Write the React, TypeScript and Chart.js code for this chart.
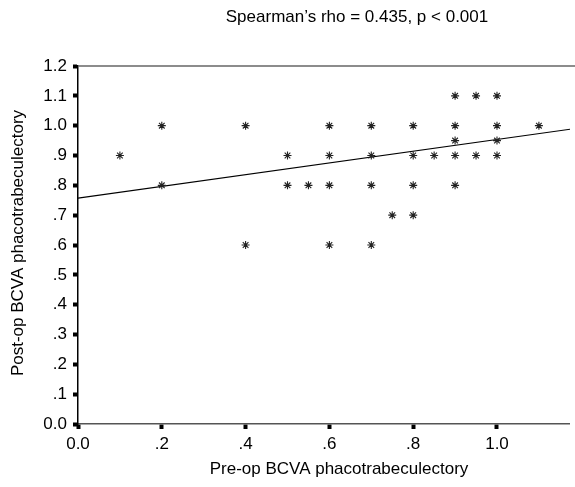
import React, { useEffect, useRef } from "react";
import { Chart, registerables } from "chart.js";
Chart.register(...registerables);

const preOp = [0.1, 0.2, 0.2, 0.4, 0.4, 0.5, 0.5, 0.55, 0.6, 0.6, 0.6, 0.6, 0.7, 0.7, 0.7, 0.7, 0.75, 0.8, 0.8, 0.8, 0.8, 0.85, 0.9, 0.9, 0.9, 0.9, 0.9, 0.95, 0.95, 1.0, 1.0, 1.0, 1.0, 1.1];
const postOp = [0.9, 1.0, 0.8, 1.0, 0.6, 0.9, 0.8, 0.8, 1.0, 0.9, 0.8, 0.6, 1.0, 0.9, 0.8, 0.6, 0.7, 1.0, 0.9, 0.8, 0.7, 0.9, 1.1, 1.0, 0.95, 0.9, 0.8, 1.1, 0.9, 1.1, 1.0, 0.95, 0.9, 1.0];

const fitX = [0, 1.2];
const fitY = [0.757, 0.993];

const xTicks = [0, 0.2, 0.4, 0.6, 0.8, 1.0];
const xTickLabels = ["0.0", ".2", ".4", ".6", ".8", "1.0"];
const yTicks = [0, 0.1, 0.2, 0.3, 0.4, 0.5, 0.6, 0.7, 0.8, 0.9, 1.0, 1.1, 1.2];
const yTickLabels = ["0.0", ".1", ".2", ".3", ".4", ".5", ".6", ".7", ".8", ".9", "1.0", "1.1", "1.2"];

const titleText = "Spearman\u2019s rho = 0.435, p < 0.001";
const xTitle = "Pre-op BCVA phacotrabeculectory";
const yTitle = "Post-op BCVA phacotrabeculectory";

const FONT = '"Liberation Sans", Arial, sans-serif';

const decorPlugin = {
  id: "decor",
  afterDatasetsDraw(chart: any) {
    const { ctx, chartArea } = chart;
    ctx.save();
    ctx.strokeStyle = "#666";
    ctx.lineWidth = 1.5;
    ctx.beginPath();
    ctx.moveTo(chartArea.left, chartArea.top);
    ctx.lineTo(chart.width, chartArea.top);
    ctx.stroke();
    ctx.restore();
  },
  afterDraw(chart: any) {
    const { ctx, chartArea } = chart;
    ctx.save();
    ctx.fillStyle = "#000";
    ctx.font = "17px " + FONT;
    ctx.textAlign = "center";
    ctx.textBaseline = "middle";
    ctx.fillText(titleText, 357, 17);
    ctx.fillText(xTitle, 339, 469);
    ctx.translate(18, (chartArea.top + chartArea.bottom) / 2 - 2);
    ctx.rotate(-Math.PI / 2);
    ctx.fillText(yTitle, 0, 0);
    ctx.restore();
  },
};

export default function App() {
  const ref = useRef<HTMLCanvasElement>(null);
  useEffect(() => {
    if (!ref.current) return;
    const chart = new Chart(ref.current, {
      type: "scatter",
      data: {
        datasets: [
          {
            data: preOp.map((x, i) => ({ x, y: postOp[i] })),
            pointStyle: "star",
            pointRadius: 4,
            borderColor: "#222",
            backgroundColor: "#222",
            borderWidth: 1.1,
            showLine: false,
          },
          {
            data: fitX.map((x, i) => ({ x, y: fitY[i] })),
            showLine: true,
            pointRadius: 0,
            borderColor: "#000",
            borderWidth: 1.2,
          },
        ],
      },
      options: {
        animation: false,
        responsive: true,
        maintainAspectRatio: false,
        layout: { padding: { top: 66, right: 0, bottom: 0, left: 0 } },
        plugins: { legend: { display: false }, tooltip: { enabled: false }, title: { display: false } },
        scales: {
          x: {
            type: "linear",
            min: 0,
            max: 1.174,
            afterBuildTicks: (s: any) => {
              s.ticks = xTicks.map((v) => ({ value: v }));
            },
            afterFit: (s: any) => {
              s.height = 63;
            },
            ticks: {
              font: { size: 17, family: FONT },
              color: "#000",
              padding: 5,
              maxRotation: 0,
              autoSkip: false,
              callback: (v: any) => {
                const i = xTicks.findIndex((t) => Math.abs(t - v) < 1e-6);
                return i >= 0 ? xTickLabels[i] : "";
              },
            },
            grid: { drawOnChartArea: false, tickLength: 5, tickWidth: 4, tickColor: "#000" },
            border: { color: "#555", width: 1.5 },
          },
          y: {
            type: "linear",
            min: 0,
            max: 1.2,
            afterBuildTicks: (s: any) => {
              s.ticks = yTicks.map((v) => ({ value: v }));
            },
            afterFit: (s: any) => {
              s.width = 78;
            },
            ticks: {
              font: { size: 17, family: FONT },
              color: "#000",
              padding: 6,
              autoSkip: false,
              callback: (v: any) => {
                const i = yTicks.findIndex((t) => Math.abs(t - v) < 1e-6);
                return i >= 0 ? yTickLabels[i] : "";
              },
            },
            grid: { drawOnChartArea: false, tickLength: 5, tickWidth: 4, tickColor: "#000" },
            border: { color: "#000", width: 1.5 },
          },
        },
      },
      plugins: [decorPlugin],
    });
    return () => chart.destroy();
  }, []);
  return (
    <div style={{ position: "absolute", left: 0, top: 0, width: 575, height: 487, background: "#fff" }}>
      <canvas ref={ref} />
    </div>
  );
}
